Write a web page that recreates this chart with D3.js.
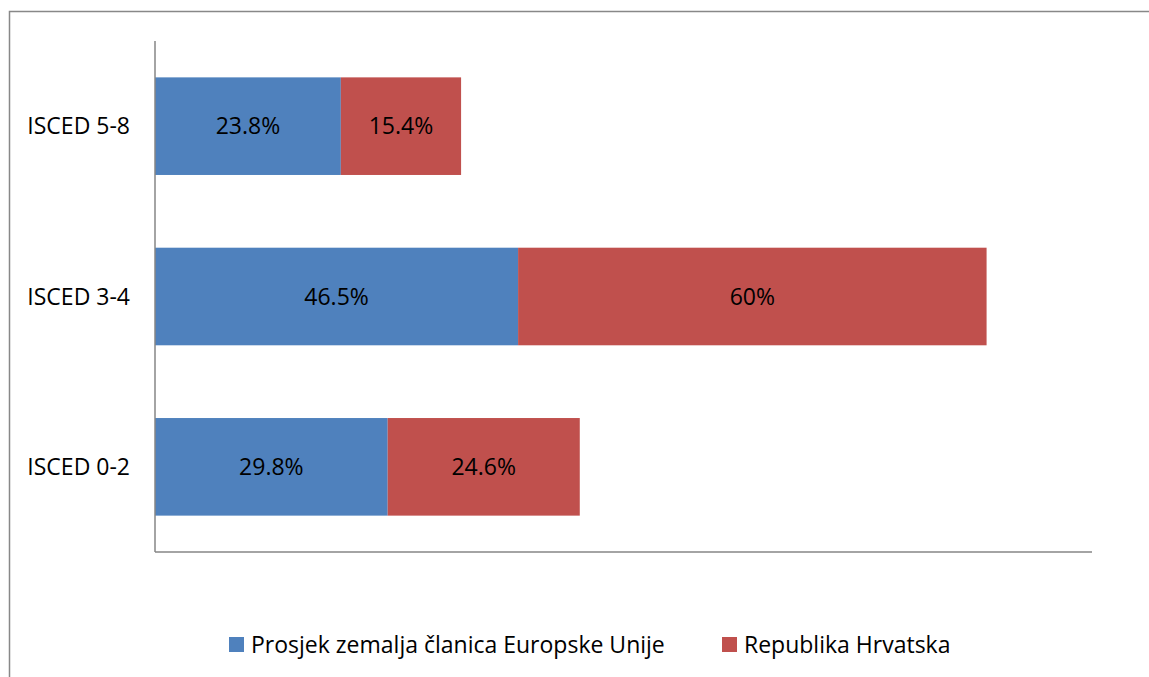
<!DOCTYPE html>
<html>
<head>
<meta charset="utf-8">
<script src="https://cdn.jsdelivr.net/npm/d3@7"></script>
<style>
  body { margin: 0; background: #fff; }
  text { font-family: "Open Sans", Lato, sans-serif; fill: #000; }
</style>
</head>
<body>
<div id="chart"></div>
<script>
// data
const categories = ["ISCED 5-8", "ISCED 3-4", "ISCED 0-2"];
const seriesNames = ["Prosjek zemalja članica Europske Unije", "Republika Hrvatska"];
const seriesColors = ["#4F81BD", "#C0504D"];
const euValues = [23.8, 46.5, 29.8];
const hrValues = [15.4, 60, 24.6];
const labelsEu = ["23.8%", "46.5%", "29.8%"];
const labelsHr = ["15.4%", "60%", "24.6%"];

const width = 1149, height = 677;
const plot = { left: 155, right: 1092, top: 41, bottom: 552 };
const fontSize = "23px";

const svg = d3.select("#chart").append("svg").attr("width", width).attr("height", height);

// outer chart border
svg.append("rect")
  .attr("x", 9.5).attr("y", 11.5)
  .attr("width", width + 10).attr("height", height + 10)
  .attr("fill", "none").attr("stroke", "#888").attr("stroke-width", 1.5);

const x = d3.scaleLinear().domain([0, 120]).range([plot.left, plot.right]);
const y = d3.scaleBand().domain(categories).range([plot.top, plot.bottom])
  .paddingInner(0.427).paddingOuter(0.2135);

const rows = categories.map((c, i) => ({ cat: c, eu: euValues[i], hr: hrValues[i], le: labelsEu[i], lh: labelsHr[i] }));

const segs = [];
rows.forEach((r) => {
  segs.push({ cat: r.cat, x0: 0, x1: r.eu, color: seriesColors[0], label: r.le });
  segs.push({ cat: r.cat, x0: r.eu, x1: r.eu + r.hr, color: seriesColors[1], label: r.lh });
});

const g = svg.append("g");
g.selectAll("rect.bar").data(segs).join("rect")
  .attr("class", "bar")
  .attr("x", (d) => x(d.x0))
  .attr("width", (d) => x(d.x1) - x(d.x0))
  .attr("y", (d) => y(d.cat))
  .attr("height", y.bandwidth())
  .attr("fill", (d) => d.color);

g.selectAll("text.val").data(segs).join("text")
  .attr("class", "val")
  .attr("x", (d) => (x(d.x0) + x(d.x1)) / 2)
  .attr("y", (d) => y(d.cat) + y.bandwidth() / 2)
  .attr("dy", "0.35em")
  .attr("text-anchor", "middle")
  .style("font-size", fontSize)
  .text((d) => d.label);

// axes
svg.append("line")
  .attr("x1", plot.left).attr("x2", plot.left)
  .attr("y1", plot.top).attr("y2", plot.bottom)
  .attr("stroke", "#868686").attr("stroke-width", 1.5);
svg.append("line")
  .attr("x1", plot.left).attr("x2", plot.right)
  .attr("y1", plot.bottom).attr("y2", plot.bottom)
  .attr("stroke", "#868686").attr("stroke-width", 1.5);

svg.selectAll("text.cat").data(categories).join("text")
  .attr("class", "cat")
  .attr("x", 130)
  .attr("y", (d) => y(d) + y.bandwidth() / 2)
  .attr("dy", "0.35em")
  .attr("text-anchor", "end")
  .style("font-size", fontSize)
  .text((d) => d);

// legend
const legendX = [229, 722];
const legend = svg.append("g");
seriesNames.forEach((name, i) => {
  legend.append("rect")
    .attr("x", legendX[i]).attr("y", 637)
    .attr("width", 15).attr("height", 15)
    .attr("fill", seriesColors[i]);
  legend.append("text")
    .attr("x", legendX[i] + 22).attr("y", 645)
    .attr("dy", "0.35em")
    .style("font-size", fontSize)
    .text(name);
});
</script>
</body>
</html>
